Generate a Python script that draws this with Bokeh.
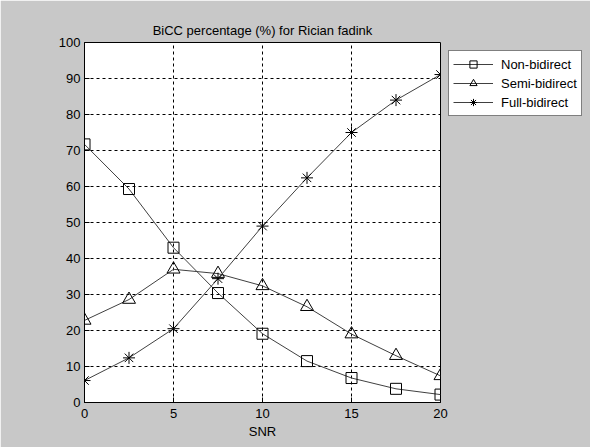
from bokeh.plotting import figure
from bokeh.models import Legend, LegendItem, FixedTicker, Range1d
from bokeh.embed import file_html
from bokeh.resources import INLINE

snr = [0, 2.5, 5, 7.5, 10, 12.5, 15, 17.5, 20]
non_bidirect = [71.7, 59.3, 43.0, 30.4, 19.1, 11.5, 6.8, 3.8, 2.2]
semi_bidirect = [22.8, 28.6, 37.0, 35.8, 32.4, 26.6, 19.0, 13.0, 7.4]
full_bidirect = [6.1, 12.4, 20.5, 34.4, 49.0, 62.4, 75.0, 84.0, 91.1]
x_ticks = [0, 5, 10, 15, 20]
y_ticks = [0, 10, 20, 30, 40, 50, 60, 70, 80, 90, 100]

FONT = "Liberation Sans"
BG = "#c8c8c8"

p = figure(frame_width=356, frame_height=360, output_backend="svg", toolbar_location=None,
           x_range=Range1d(0, 20), y_range=Range1d(0, 100),
           title="BiCC percentage (%) for Rician fadink")
p.min_border_left = 84
p.min_border_right = 150
p.min_border_top = 42
p.min_border_bottom = 45
p.background_fill_color = "white"
p.border_fill_color = BG
p.outline_line_color = "black"
p.outline_line_width = 1

p.title.align = "center"
p.title.text_font = FONT
p.title.text_font_size = "13px"
p.title.text_font_style = "normal"
p.title.text_color = "black"
p.title.offset = 0
p.title.standoff = 9

p.xaxis.axis_label = "SNR"
for ax in (p.xaxis, p.yaxis):
    ax.major_label_text_font = FONT
    ax.major_label_text_font_size = "13px"
    ax.major_label_text_color = "black"
    ax.axis_label_text_font = FONT
    ax.axis_label_text_font_size = "13px"
    ax.axis_label_text_font_style = "normal"
    ax.axis_label_text_color = "black"
    ax.axis_line_color = "black"
    ax.major_tick_line_color = "black"
    ax.major_tick_in = 5
    ax.major_tick_out = 0
    ax.minor_tick_line_color = None
p.xaxis.ticker = FixedTicker(ticks=x_ticks)
p.yaxis.ticker = FixedTicker(ticks=y_ticks)
p.xaxis.major_label_standoff = 6
p.xaxis.axis_label_standoff = 3
p.yaxis.major_label_standoff = 4

for g in (p.xgrid, p.ygrid):
    g.grid_line_color = "black"
    g.grid_line_dash = "3 3"
    g.grid_line_width = 1

LC = "#404040"
r1l = p.line(snr, non_bidirect, line_color=LC, line_width=1)
r1m = p.scatter(snr, non_bidirect, marker="square", size=11, fill_color=None,
                line_color="black", line_width=1)
r2l = p.line(snr, semi_bidirect, line_color=LC, line_width=1)
r2m = p.scatter(snr, semi_bidirect, marker="triangle", size=13, fill_color=None,
                line_color="black", line_width=1)
r3l = p.line(snr, full_bidirect, line_color=LC, line_width=1)
r3m = p.scatter(snr, full_bidirect, marker="asterisk", size=12,
                line_color="black", line_width=1)

legend = Legend(items=[
    LegendItem(label="Non-bidirect", renderers=[r1l, r1m]),
    LegendItem(label="Semi-bidirect", renderers=[r2l, r2m]),
    LegendItem(label="Full-bidirect", renderers=[r3l, r3m]),
], location="top_left")
legend.label_text_font = FONT
legend.label_text_font_size = "13px"
legend.label_text_color = "black"
legend.glyph_width = 40
legend.glyph_height = 18
legend.label_height = 18
legend.label_standoff = 8
legend.spacing = 1
legend.padding = 4
legend.margin = 8
legend.border_line_color = "black"
legend.border_line_width = 1
legend.background_fill_color = "white"
legend.background_fill_alpha = 1
p.add_layout(legend, "right")

open("out.html", "w").write(file_html(p, INLINE))
